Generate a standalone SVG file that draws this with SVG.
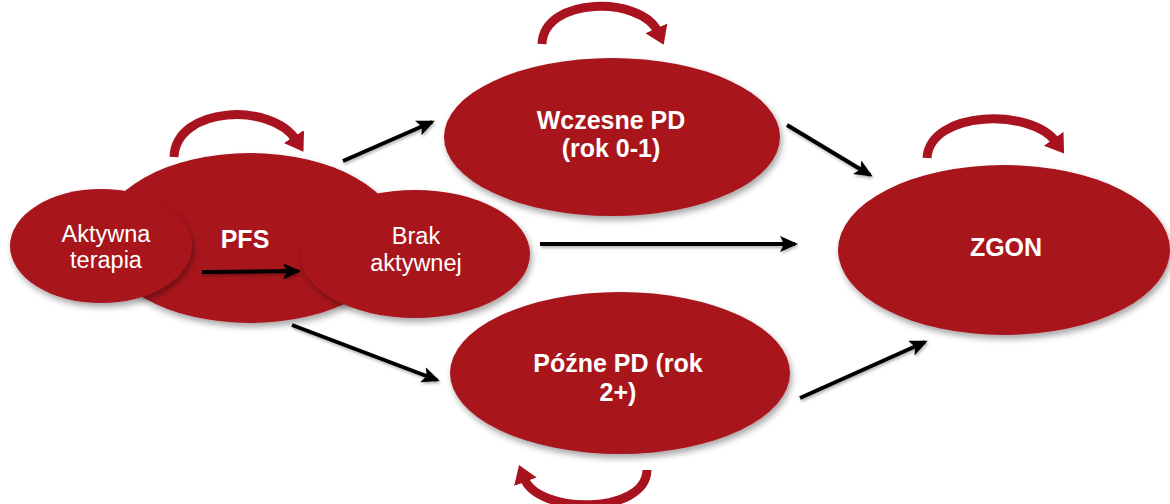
<svg xmlns="http://www.w3.org/2000/svg" width="1170" height="504" viewBox="0 0 1170 504">
<style>
.n{fill:#a8131f;filter:url(#sh)}
.tb{font-family:"Liberation Sans",Arial,sans-serif;font-weight:bold;font-size:25px;fill:#fff;text-anchor:middle}
.tr{font-family:"Liberation Sans",Arial,sans-serif;font-size:23.5px;fill:#fff;text-anchor:middle}
.a{stroke:#000;stroke-width:4;fill:none;marker-end:url(#ah);filter:url(#sh2)}
.l{stroke:#a8131f;stroke-width:9;fill:none;marker-end:url(#lh)}
</style>
<defs>
<filter id="sh" x="-20%" y="-20%" width="140%" height="150%"><feDropShadow dx="2" dy="4" stdDeviation="3" flood-color="#000" flood-opacity="0.35"/></filter>
<filter id="sh2" filterUnits="userSpaceOnUse" x="0" y="0" width="1170" height="504"><feDropShadow dx="1" dy="2" stdDeviation="1.5" flood-color="#000" flood-opacity="0.3"/></filter>
<marker id="ah" markerUnits="userSpaceOnUse" markerWidth="22" markerHeight="22" refX="15" refY="8" orient="auto"><path d="M0,0 L18,8 L0,16 L4,8 Z" fill="#000"/></marker>
<marker id="lh" markerUnits="userSpaceOnUse" markerWidth="26" markerHeight="26" refX="4" refY="12" orient="auto"><path d="M0,0 L18,12 L0,24 Z" fill="#a8131f"/></marker>
</defs>
<g id="pfs">
<ellipse class="n" cx="250" cy="238" rx="150" ry="85"/>
<text class="tb" x="245" y="248">PFS</text>
</g>
<g id="aktywna">
<ellipse class="n" cx="101" cy="246" rx="91" ry="57"/>
<text class="tr" x="106" y="242">Aktywna</text>
<text class="tr" x="106" y="268">terapia</text>
</g>
<g id="brak">
<ellipse class="n" cx="415" cy="254" rx="115" ry="64"/>
<text class="tr" x="416" y="244">Brak</text>
<text class="tr" x="416" y="271">aktywnej</text>
</g>
<g id="wczesne">
<ellipse class="n" cx="612" cy="137" rx="168" ry="79"/>
<text class="tb" x="611" y="129">Wczesne PD</text>
<text class="tb" x="611" y="157">(rok 0-1)</text>
</g>
<g id="pozne">
<ellipse class="n" cx="620" cy="373" rx="170" ry="81"/>
<text class="tb" x="618" y="372">Późne PD (rok</text>
<text class="tb" x="618" y="401">2+)</text>
</g>
<g id="zgon">
<ellipse class="n" cx="1004" cy="250" rx="166" ry="85"/>
<text class="tb" x="1006" y="256">ZGON</text>
</g>
<g id="connectors">
<path class="a" d="M202,272 L298,271"/>
<path class="a" d="M343,161 L432,122"/>
<path class="a" d="M540,244 L795,244"/>
<path class="a" d="M292,325 L437,380"/>
<path class="a" d="M787,125 L870,175"/>
<path class="a" d="M800,398 L925,342"/>
<path class="l" d="M174,157 C176,106 272,102 296,140"/>
<path class="l" d="M542,44 C544,-4 642,-4 658,32"/>
<path class="l" d="M927,158 C930,110 1032,108 1056,142"/>
<path class="l" d="M647,470 C646,515 538,515 524,478"/>
</g>
</svg>
